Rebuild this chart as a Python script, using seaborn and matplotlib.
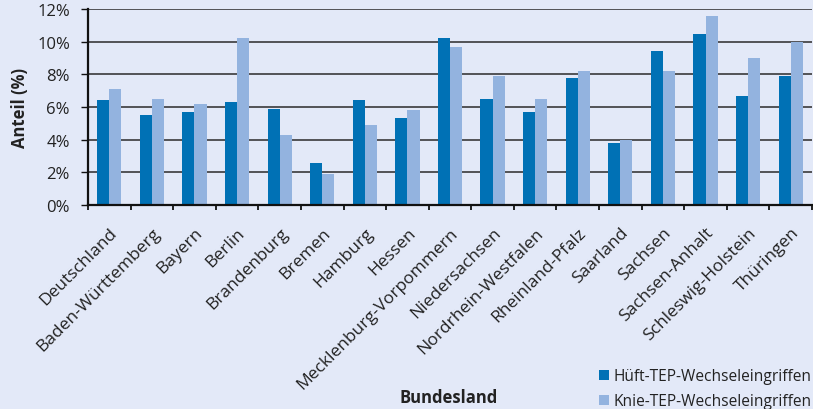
#!/usr/bin/env python3
# Anteil der Wechseleingriffe (Hüft-/Knie-TEP) je Bundesland

import numpy as np
import pandas as pd
import seaborn as sns
import matplotlib.pyplot as plt
from matplotlib.ticker import FixedLocator, NullFormatter

LAENDER = ["Deutschland", "Baden-Württemberg", "Bayern", "Berlin", "Brandenburg",
           "Bremen", "Hamburg", "Hessen", "Mecklenburg-Vorpommern", "Niedersachsen",
           "Nordrhein-Westfalen", "Rheinland-Pfalz", "Saarland", "Sachsen",
           "Sachsen-Anhalt", "Schleswig-Holstein", "Thüringen"]
HUEFTE = [6.4, 5.5, 5.7, 6.3, 5.9, 2.6, 6.4, 5.3, 10.2, 6.5, 5.7, 7.8, 3.8, 9.4, 10.5, 6.7, 7.9]
KNIE   = [7.1, 6.5, 6.2, 10.2, 4.3, 1.9, 4.9, 5.8, 9.7, 7.9, 6.5, 8.2, 4.0, 8.2, 11.6, 9.0, 10.0]
SERIEN = ["Hüft-TEP-Wechseleingriffen", "Knie-TEP-Wechseleingriffen"]
FARBEN = ["#0071b5", "#93b3df"]
Y_TICKS = [0, 2, 4, 6, 8, 10, 12]

BG = "#e3e9f8"
TXT = "#222222"


def main():
    df = pd.DataFrame({
        "land": LAENDER * 2,
        "anteil": HUEFTE + KNIE,
        "serie": [SERIEN[0]] * len(LAENDER) + [SERIEN[1]] * len(LAENDER),
    })

    sns.set_theme(style="white")
    plt.rcParams["font.family"] = ["Open Sans", "DejaVu Sans"]

    fig = plt.figure(figsize=(8.13, 4.10), dpi=100, facecolor=BG)
    ax = fig.add_axes([88 / 813, 1 - 206 / 410, (812 - 88) / 813, (206 - 10) / 410])
    ax.set_facecolor(BG)

    sns.barplot(data=df, x="land", y="anteil", hue="serie", order=LAENDER,
                hue_order=SERIEN, palette=FARBEN, width=0.57, gap=0,
                saturation=1, errorbar=None, linewidth=0, edgecolor="none",
                ax=ax, zorder=3)

    ax.set_ylim(0, 12)
    ax.set_xlim(-0.5, len(LAENDER) - 0.5)
    ax.set_yticks(Y_TICKS)
    ax.set_yticklabels([f"{t}%" for t in Y_TICKS], fontsize=12, color=TXT)
    ax.yaxis.grid(True, color="#2a2a2a", linewidth=1.1, zorder=0)
    ax.set_axisbelow(True)

    # ticks between categories, labels at centers
    ax.xaxis.set_major_locator(FixedLocator(np.arange(-0.5, len(LAENDER), 1.0)))
    ax.xaxis.set_major_formatter(NullFormatter())
    ax.xaxis.set_minor_locator(FixedLocator(np.arange(len(LAENDER))))
    ax.set_xticklabels(LAENDER, minor=True, rotation=45, ha="right",
                       rotation_mode="anchor", fontsize=12.5, color=TXT)
    ax.tick_params(axis="x", which="major", direction="out", length=3.5, width=1.3,
                   color="#111111", bottom=True)
    ax.tick_params(axis="x", which="minor", length=0, pad=14)
    ax.tick_params(axis="y", direction="out", length=5, width=1.0, color="#111111",
                   left=True, pad=8)

    for side in ("top", "right"):
        ax.spines[side].set_visible(False)
    for side in ("left", "bottom"):
        ax.spines[side].set_color("#111111")
        ax.spines[side].set_linewidth(1.6)
        ax.spines[side].set_zorder(5)

    ax.set_xlabel("")
    ax.set_ylabel("Anteil (%)", fontsize=12, fontweight="bold", color=TXT, labelpad=6)
    fig.text(449 / 813, 1 - 398 / 410, "Bundesland", ha="center", va="center",
             fontsize=12, fontweight="bold", color=TXT)

    handles, labels = ax.get_legend_handles_labels()
    leg = ax.legend(handles, labels, loc="lower right", bbox_to_anchor=(1.0, -0.005),
                    bbox_transform=fig.transFigure, frameon=False, fontsize=11.2,
                    handlelength=0.65, handleheight=0.65, handletextpad=0.3,
                    labelspacing=0.6, borderaxespad=0.0, borderpad=0.1)
    for t in leg.get_texts():
        t.set_color(TXT)

    fig.savefig("out.png", dpi=100, facecolor=BG)


if __name__ == "__main__":
    main()
